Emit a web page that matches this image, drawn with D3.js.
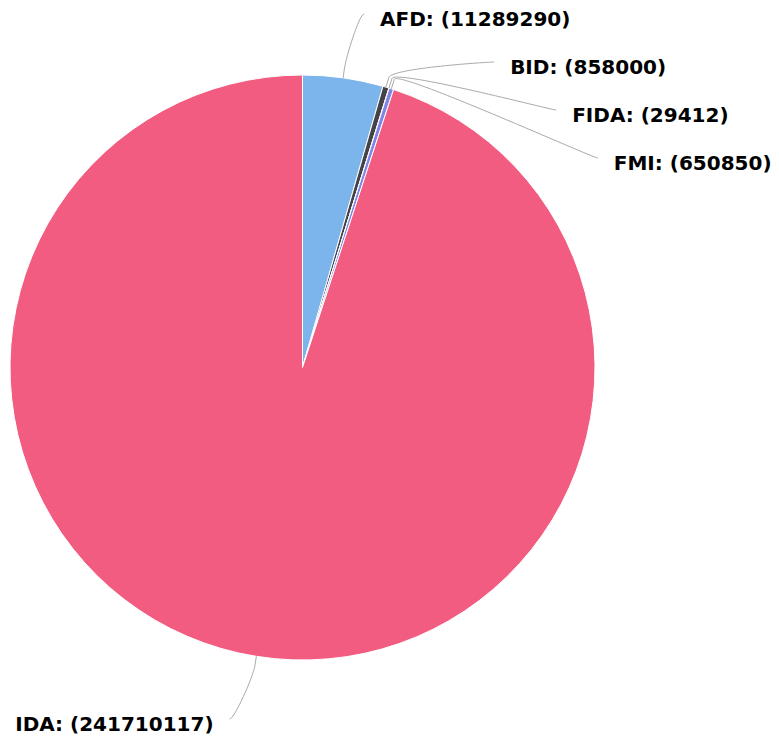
<!DOCTYPE html>
<html lang="en">
<head>
    <meta charset="UTF-8">
    <title>Pie</title>
    <script src="https://d3js.org/d3.v7.min.js"></script>
</head>
<body style="margin:0;background:#fff;">

<style>
    .label text {
        font: bold 20px "DejaVu Sans", sans-serif;
        fill: #000;
    }
    .connector {
        fill: none;
        stroke: #aaa;
        stroke-width: 1;
    }
</style>

<script type="text/javascript">

    var names = ["AFD", "BID", "FIDA", "FMI", "IDA"];
    var amounts = [11289290, 858000, 29412, 650850, 241710117];
    var colors = ["#7cb5ec", "#434348", "#90ed7d", "#8085e9", "#f15c80"];

    var width = 779, height = 742;
    var cx = 302.5, cy = 367.5, radius = 292.5;
    var labelRadius = 358, labelGap = 48, labelTop = 14, labelBottom = 719;

    var data = names.map(function(n, i) { return {name: n, value: amounts[i], color: colors[i]}; });

    var svg = d3.select("body").append("svg")
        .attr("width", width)
        .attr("height", height);

    var g = svg.append("g")
        .attr("transform", "translate(" + cx + "," + cy + ")");

    var pie = d3.pie().sort(null).value(function(d) { return d.value; });
    var arc = d3.arc().innerRadius(0).outerRadius(radius);

    var arcs = pie(data);

    g.selectAll("path.slice")
        .data(arcs).enter()
        .append("path")
        .attr("class", "slice")
        .attr("d", arc)
        .style("fill", function(d) { return d.data.color; })
        .style("stroke", "#fff")
        .style("stroke-width", 1);

    // label layout: push overlapping labels down on each side
    var labels = arcs.map(function(d) {
        var mid = (d.startAngle + d.endAngle) / 2;
        return {d: d, mid: mid, right: Math.sin(mid) >= 0, y: -labelRadius * Math.cos(mid)};
    });

    var lastY = -Infinity;
    labels.filter(function(l) { return l.right; })
        .sort(function(a, b) { return a.y - b.y; })
        .forEach(function(l) {
            l.y = Math.max(l.y, labelTop - cy, lastY + labelGap);
            lastY = l.y;
        });

    labels.forEach(function(l) {
        l.y = Math.min(l.y, labelBottom - cy);
        var dx = Math.sqrt(Math.max(0, labelRadius * labelRadius - l.y * l.y));
        l.x = l.right ? dx : -dx;
    });

    var lab = g.selectAll("g.label")
        .data(labels).enter()
        .append("g")
        .attr("class", "label");

    // soft connector: out from the edge, then curve in flat to the label
    lab.append("path")
        .attr("class", "connector")
        .attr("d", function(l) {
            var s = Math.sin(l.mid), c = -Math.cos(l.mid);
            var ax = radius * s, ay = radius * c;
            var bx = (radius + 10) * s, by = (radius + 10) * c;
            var side = l.right ? 1 : -1;
            var p = d3.path();
            p.moveTo(ax, ay);
            p.lineTo(bx, by);
            p.bezierCurveTo(2 * bx - ax, 2 * by - ay, l.x, l.y, l.x + side * 5, l.y);
            return p.toString();
        });

    lab.append("text")
        .attr("x", function(l) { return l.x + (l.right ? 21 : -21); })
        .attr("y", function(l) { return l.y + 5; })
        .attr("dy", "0.35em")
        .attr("text-anchor", function(l) { return l.right ? "start" : "end"; })
        .text(function(l) { return l.d.data.name + ": (" + l.d.data.value + ")"; });

</script>

</body>
</html>
